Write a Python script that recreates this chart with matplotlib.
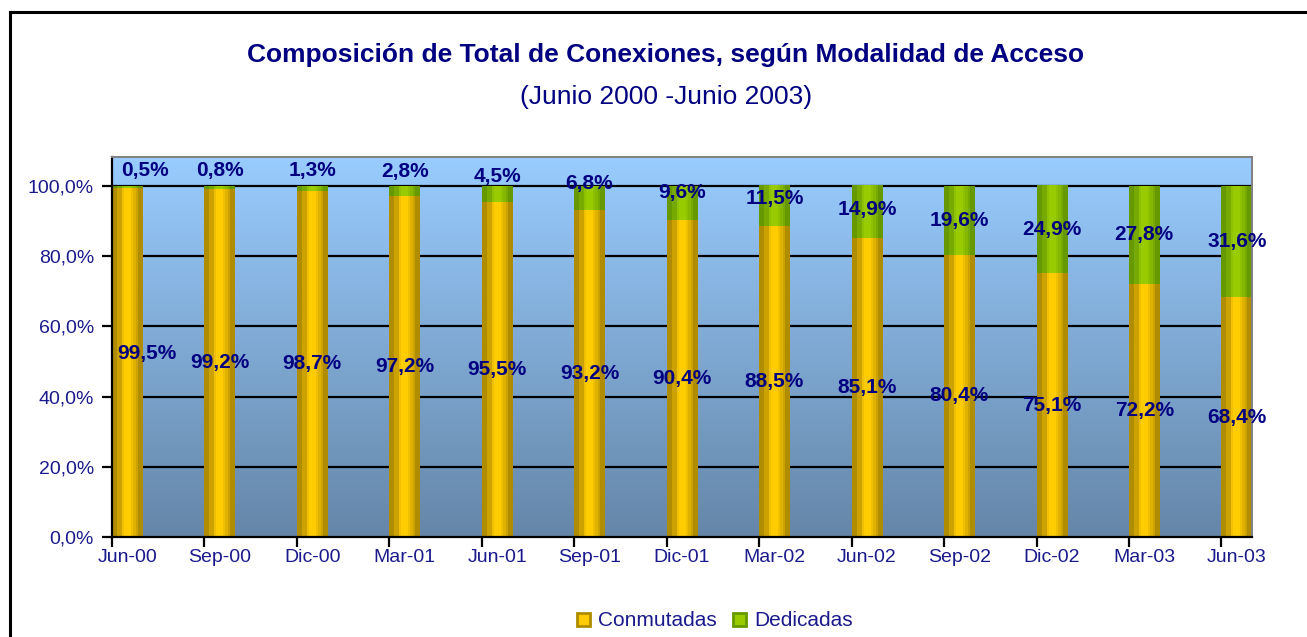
import numpy as np
import matplotlib
matplotlib.use("Agg")
import matplotlib.pyplot as plt
from matplotlib.colors import LinearSegmentedColormap
from matplotlib.patches import Patch
from matplotlib.lines import Line2D

plt.rcParams['font.family'] = ['Liberation Sans Narrow', 'Liberation Sans', 'DejaVu Sans']

periods = ['Jun-00', 'Sep-00', 'Dic-00', 'Mar-01', 'Jun-01', 'Sep-01', 'Dic-01',
           'Mar-02', 'Jun-02', 'Sep-02', 'Dic-02', 'Mar-03', 'Jun-03']
conmutadas = [99.5, 99.2, 98.7, 97.2, 95.5, 93.2, 90.4, 88.5, 85.1, 80.4, 75.1, 72.2, 68.4]
dedicadas = [0.5, 0.8, 1.3, 2.8, 4.5, 6.8, 9.6, 11.5, 14.9, 19.6, 24.9, 27.8, 31.6]

NAVY = '#000080'
TICK_NAVY = '#1a1a8c'


def fmt(v):
    return f'{v:.1f}'.replace('.', ',') + '%'


fig = plt.figure(figsize=(13.07, 6.37), dpi=100)
ax = fig.add_axes([112 / 1307, 100 / 637, 1140 / 1307, 380 / 637])

w = 0.33
x = np.arange(len(periods))
ymax = 108.3
ax.set_xlim(0, len(periods) - 1 + w)
ax.set_ylim(0, ymax)

# plot area gradient background
bg = LinearSegmentedColormap.from_list('bg', ['#6586a8', '#99ccff'])
ax.imshow(np.linspace(0, 1, 256).reshape(-1, 1), cmap=bg, aspect='auto',
          extent=(0, len(periods) - 1 + w, 0, ymax), origin='lower', zorder=0)

for g in [20, 40, 60, 80, 100]:
    ax.axhline(g, color='black', lw=1.6, zorder=1)

# cylinder-like shading across each bar
profile = np.array([0.0, 0.0, 0.35, 0.35, 0.8, 1.0, 1.0, 1.0, 0.8, 0.6, 0.35, 0.0, 0.0]).reshape(1, -1)
gold = LinearSegmentedColormap.from_list('gold', ['#b08c00', '#ffcc00'])
green = LinearSegmentedColormap.from_list('green', ['#669900', '#99cc00'])

b1 = ax.bar(x, conmutadas, width=w, align='edge', color='none', zorder=2)
b2 = ax.bar(x, dedicadas, width=w, bottom=conmutadas, align='edge', color='none', zorder=2)
for bars, cm in [(b1, gold), (b2, green)]:
    for p in bars:
        ax.imshow(profile, cmap=cm, aspect='auto', interpolation='nearest',
                  extent=(p.get_x(), p.get_x() + p.get_width(), p.get_y(), p.get_y() + p.get_height()),
                  zorder=2)
ax.set_xlim(0, len(periods) - 1 + w)
ax.set_ylim(0, ymax)

# value labels
for i in range(len(periods)):
    cx = x[i] + w / 2
    ha = 'center'
    if i == 0:
        cx, ha = x[i] + 0.06, 'left'
    ax.text(cx, conmutadas[i] / 2 + (2.5 if i == 0 else 0), fmt(conmutadas[i]), ha=ha, va='center',
            color=NAVY, fontsize=15, fontweight='bold', zorder=4)
    seg = dedicadas[i]
    mid = conmutadas[i] + seg / 2
    ly = min(mid + 0.4 * max(0, 17 - seg), 104.5)
    ax.text(cx - (0.0 if i else -0.04), ly, fmt(seg), ha=ha, va='center',
            color=NAVY, fontsize=15, fontweight='bold', zorder=4)

# axes styling
ax.set_yticks([0, 20, 40, 60, 80, 100])
ax.set_yticklabels([fmt(v) for v in [0, 20, 40, 60, 80, 100]])
ax.set_xticks(x + w / 2)
ax.set_xticklabels(periods)
ax.set_xticks(x, minor=True)
ax.tick_params(axis='x', which='major', length=0, pad=9, labelsize=14, labelcolor=TICK_NAVY)
ax.tick_params(axis='x', which='minor', length=7, width=1.6, direction='out', color='black')
ax.tick_params(axis='y', length=7, width=1.6, direction='out', color='black',
               labelsize=14, labelcolor=TICK_NAVY, pad=6)
for s in ['left', 'bottom']:
    ax.spines[s].set_color('black')
    ax.spines[s].set_linewidth(1.6)
for s in ['top', 'right']:
    ax.spines[s].set_color('#808080')
    ax.spines[s].set_linewidth(1.4)

fig.text(666 / 1307, 1 - 55 / 637, 'Composición de Total de Conexiones, según Modalidad de Acceso',
         ha='center', va='center', color=NAVY, fontsize=19, fontweight='bold')
fig.text(666 / 1307, 1 - 97 / 637, '(Junio 2000 -Junio 2003)',
         ha='center', va='center', color=NAVY, fontsize=19)

handles = [Patch(facecolor='#ffcc00', edgecolor='#b08c00', lw=2),
           Patch(facecolor='#99cc00', edgecolor='#669900', lw=2)]
fig.legend(handles, ['Conmutadas', 'Dedicadas'], loc='center', bbox_to_anchor=(715 / 1307, 1 - 621 / 637),
           ncol=2, frameon=False, fontsize=15, handlelength=0.6, handleheight=0.6,
           handletextpad=0.4, columnspacing=0.8, labelcolor=TICK_NAVY)

# outer frame (left and top edges visible)
fig.add_artist(Line2D([10 / 1307, 10 / 1307], [0, 1 - 12 / 637], transform=fig.transFigure,
                      color='black', lw=2.2))
fig.add_artist(Line2D([10 / 1307, 1], [1 - 12 / 637, 1 - 12 / 637], transform=fig.transFigure,
                      color='black', lw=2.2))

fig.savefig('out.png', dpi=100)
